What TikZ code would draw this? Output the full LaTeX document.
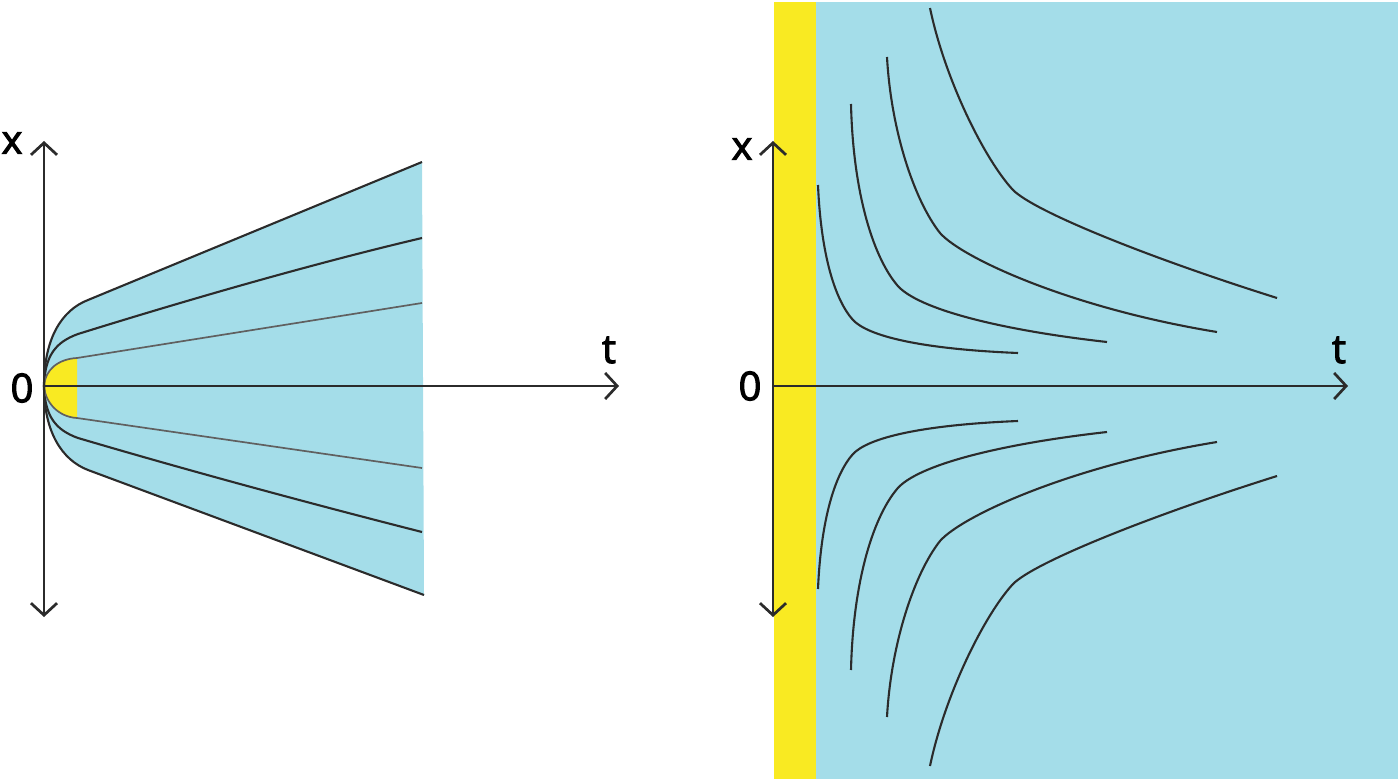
\documentclass[tikz,border=0pt]{standalone}
\usepackage{fontspec}
\setmainfont{Open Sans}
\newfontfamily\lblfont{Open Sans}[FakeBold=2.5]
\usetikzlibrary{arrows.meta}
\definecolor{skyfill}{HTML}{A4DDE9}
\definecolor{sunfill}{HTML}{F9EA22}
\definecolor{ink}{HTML}{2B2B2B}
\newcommand\fluxcurves{%
  \draw[curve] (818,185) .. controls (821,255) and (835,300) .. (853,320) .. controls (868,336) and (920,349) .. (1018,353);
  \draw[curve] (851,104) .. controls (853,190) and (872,255) .. (897,285) .. controls (917,309) and (1000,330) .. (1107,342);
  \draw[curve] (887,57) .. controls (891,130) and (914,200) .. (940,233) .. controls (962,258) and (1070,308) .. (1217,332);
  \draw[curve] (930,8) .. controls (945,80) and (985,160) .. (1013,190) .. controls (1035,212) and (1150,258) .. (1277,298);
}
\begin{document}
\begin{tikzpicture}[x=1pt,y=-1pt,
  axis/.style={draw=ink, line width=2.7pt},
  tipped/.style={-{Straight Barb[length=12pt,width=26pt,line width=2.7pt]}},
  bothtipped/.style={{Straight Barb[length=12pt,width=26pt,line width=2.7pt]}-{Straight Barb[length=12pt,width=26pt,line width=2.7pt]}},
  curve/.style={draw=ink, line width=2.1pt},
  thincurve/.style={draw=ink!75, line width=1.7pt},
  lbl/.style={font=\lblfont\fontsize{40}{40}\selectfont, text=black, inner sep=0pt}]
\useasboundingbox (0,0) rectangle (1400,781);

% ---------- left panel ----------
\fill[skyfill] (44,386) .. controls (44,338) and (62,310) .. (88,300) -- (422,162) -- (424,595) -- (88,470) .. controls (62,460) and (44,434) .. (44,386) -- cycle;
\fill[sunfill] (44,386) .. controls (45,370) and (58,359) .. (77,358) -- (77,418) .. controls (58,417) and (45,402) .. (44,386) -- cycle;

\draw[curve] (44,386) .. controls (44,338) and (62,310) .. (88,300) -- (422,162);
\draw[curve] (44,386) .. controls (44,432) and (62,460) .. (88,470) -- (424,595);
\draw[curve] (44,386) .. controls (45,355) and (56,342) .. (78,334) .. controls (200,296) and (320,262) .. (422,238);
\draw[curve] (44,386) .. controls (45,417) and (56,430) .. (78,438) .. controls (200,474) and (320,506) .. (422,532);
\draw[thincurve] (44,386) .. controls (45,370) and (58,359) .. (77,358) -- (422,303);
\draw[thincurve] (44,386) .. controls (45,402) and (58,417) .. (77,418) -- (422,468);

\coordinate (lbot) at (44,617);
\coordinate (ltop) at (44,141);
\coordinate (lo) at (44,386);
\coordinate (lt) at (619,386);
\draw[axis, bothtipped] (lbot) -- (ltop);
\draw[axis, tipped] (lo) -- (lt);

\node[lbl] (xl) at (12,143) {x};
\node[lbl] (zl) at (22,388) {0};
\node[lbl] (tl) at (609,350) {t};

% ---------- right panel ----------
\fill[sunfill] (774,2) rectangle (816,779);
\fill[skyfill] (816,2) rectangle (1398,779);

\fluxcurves
\begin{scope}[y=1pt, yshift=-774pt]
\fluxcurves
\end{scope}

\coordinate (rbot) at (773,617);
\coordinate (rtop) at (773,141);
\coordinate (ro) at (773,386);
\coordinate (rt) at (1348,386);
\draw[axis, bothtipped] (rbot) -- (rtop);
\draw[axis, tipped] (ro) -- (rt);

\node[lbl] (xr) at (742,149) {x};
\node[lbl] (zr) at (750,386) {0};
\node[lbl] (tr) at (1339,350) {t};
\end{tikzpicture}
\end{document}
